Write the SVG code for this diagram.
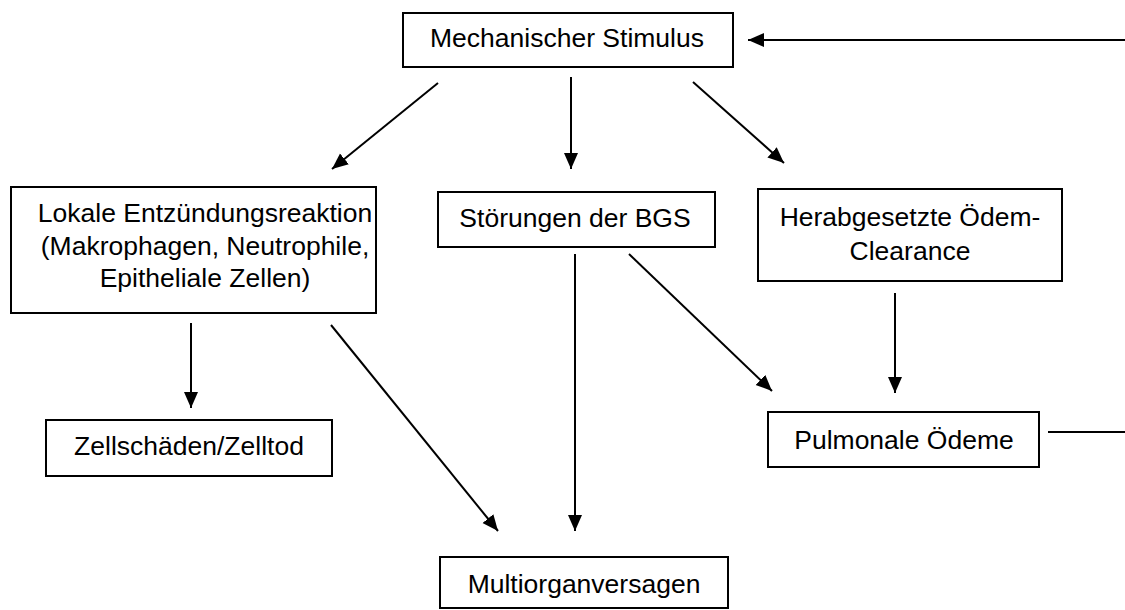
<svg xmlns="http://www.w3.org/2000/svg" width="1125" height="610" viewBox="0 0 1125 610">
<style>
.box{fill:#fff;stroke:#000;stroke-width:2}
.t{font-family:"Liberation Sans",Arial,sans-serif;font-size:26.5px;fill:#000;text-anchor:middle}
.c{stroke:#000;stroke-width:2;fill:none}
.a{marker-end:url(#ah)}
</style>
<defs>
<marker id="ah" markerUnits="userSpaceOnUse" markerWidth="18" markerHeight="16" refX="16" refY="7" orient="auto">
<path d="M0,0 L16,7 L0,14 z" fill="#000"/>
</marker>
</defs>
<rect width="1125" height="610" fill="#fff"/>
<g id="n-mech"><rect class="box" x="403" y="13" width="330" height="54"/><text class="t" x="567" y="47">Mechanischer Stimulus</text></g>
<g id="n-lokal"><rect class="box" x="11" y="187" width="365" height="126"/><text class="t" x="205" y="222">Lokale Entzündungsreaktion</text><text class="t" x="205" y="255">(Makrophagen, Neutrophile,</text><text class="t" x="205" y="287">Epitheliale Zellen)</text></g>
<g id="n-bgs"><rect class="box" x="438" y="192" width="277" height="55"/><text class="t" x="575" y="227">Störungen der BGS</text></g>
<g id="n-clear"><rect class="box" x="758" y="189" width="304" height="92"/><text class="t" x="910" y="226">Herabgesetzte Ödem-</text><text class="t" x="910" y="260">Clearance</text></g>
<g id="n-zell"><rect class="box" x="46" y="420" width="286" height="56"/><text class="t" x="189" y="455">Zellschäden/Zelltod</text></g>
<g id="n-pulm"><rect class="box" x="768" y="412" width="271" height="55"/><text class="t" x="904" y="449">Pulmonale Ödeme</text></g>
<g id="n-multi"><rect class="box" x="440" y="557" width="288" height="51"/><text class="t" x="584" y="593">Multiorganversagen</text></g>
<g id="connectors">
<line class="c a" x1="1125" y1="40" x2="748" y2="40"/>
<line class="c" x1="1048" y1="432" x2="1125" y2="432"/>
<line class="c a" x1="438" y1="83" x2="332" y2="169"/>
<line class="c a" x1="571" y1="77" x2="571" y2="169"/>
<line class="c a" x1="693" y1="82" x2="784" y2="163"/>
<line class="c a" x1="191" y1="323" x2="191" y2="408"/>
<line class="c a" x1="331" y1="325" x2="498" y2="531"/>
<line class="c a" x1="575" y1="254" x2="575" y2="531"/>
<line class="c a" x1="629" y1="254" x2="772" y2="391"/>
<line class="c a" x1="895" y1="293" x2="895" y2="393"/>
</g>
</svg>
